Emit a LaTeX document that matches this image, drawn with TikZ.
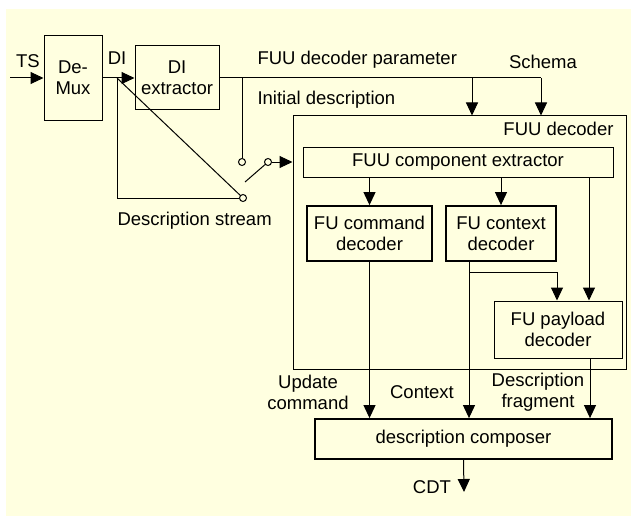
\documentclass[tikz,border=0pt]{standalone}
\usepackage{fontspec}
\setmainfont{Liberation Sans}
\usetikzlibrary{arrows.meta}
\definecolor{paper}{HTML}{FFFFE0}

\begin{document}
\begin{tikzpicture}[x=1pt,y=-1pt,
    font=\fontsize{18.5}{21}\selectfont,
    line width=1pt,
    arr/.style={-{Triangle[width=12pt,length=13pt]}},
    box/.style={draw,line width=1pt,align=center,inner sep=0pt},
    heavybox/.style={box,line width=1.8pt},
    contact/.style={draw,circle,fill=paper,minimum size=7pt,inner sep=0pt},
    lbl/.style={inner sep=0pt,align=center}]
  \useasboundingbox (0,0) rectangle (631,516);
  \fill[paper] (6,9) rectangle (631,516);
  % blocks
  \node[box,minimum width=58pt,minimum height=85pt] (demux) at (73,78) {De-\\Mux};
  \node[box,minimum width=84pt,minimum height=64pt] (diext) at (177,78) {DI\\extractor};
  \node[box,minimum width=333pt,minimum height=253pt] (fuudec) at (459.5,242.5) {};
  \node[box,minimum width=310pt,minimum height=30pt] (compext) at (458,162) {FUU component extractor};
  \node[heavybox,minimum width=125pt,minimum height=55pt] (cmddec) at (369.5,233.5) {FU command\\decoder};
  \node[heavybox,minimum width=110pt,minimum height=55pt] (ctxdec) at (501,233.5) {FU context\\decoder};
  \node[box,minimum width=128pt,minimum height=57pt] (payload) at (558,329.5) {FU payload\\decoder};
  \node[heavybox,minimum width=297pt,minimum height=40pt] (composer) at (463.5,439) {description composer};
  % switch
  \node[contact] (c1) at (242,162) {};
  \node[contact] (c2) at (243,198) {};
  \node[contact] (c3) at (268,162) {};
  \coordinate (lever) at (245,182);
  % free ends and branch points
  \coordinate (tsin) at (10,78);
  \coordinate (di) at (117,78);
  \coordinate (ini) at (242,78);
  \coordinate (par) at (472,78);
  \coordinate (sch) at (541,78);
  \coordinate (ctxbr) at (469,272);
  \coordinate (cdt) at (464,492);
  % connectors
  \draw[arr] (tsin) -- (demux.west);
  \draw[arr] (demux.east) -- (diext.west);
  \draw (diext.east) -- (sch);
  \draw[arr] (par) -- (par |- fuudec.north);
  \draw[arr] (sch) -- (sch |- fuudec.north);
  \draw (ini) -- (c1);
  \draw (di) -- (c2);
  \draw (di) |- (c2);
  \draw (lever) -- (c3);
  \draw[arr] (c3) -- (c3 -| fuudec.west);
  \draw[arr] (cmddec.north |- compext.south) -- (cmddec.north);
  \draw[arr] (ctxdec.north |- compext.south) -- (ctxdec.north);
  \draw[arr] ([xshift=31pt]payload.north |- compext.south) -- ([xshift=31pt]payload.north);
  \draw[arr] (ctxbr) -| ([xshift=-1pt]payload.north);
  \draw[arr] (ctxbr |- ctxdec.south) -- (ctxbr |- composer.north);
  \draw[arr] (cmddec.south) -- (cmddec.south |- composer.north);
  \draw[arr] ([xshift=32pt]payload.south) -- ([xshift=32pt]payload.south |- composer.north);
  \draw[arr] (composer.south) -- (cdt);
  % labels
  \node[lbl] (lts) at (28,61) {TS};
  \node[lbl] (ldi) at (117,58) {DI};
  \node[lbl,anchor=west] (lpar) at (257,60) {FUU decoder parameter};
  \node[lbl] (lsch) at (543,62) {Schema};
  \node[lbl,anchor=west] (lini) at (257,100) {Initial description};
  \node[lbl,anchor=east] (lfuu) at (614,129) {FUU decoder};
  \node[lbl,anchor=west] (lstr) at (117,221) {Description stream};
  \node[lbl] (lupd) at (308,392) {Update\\command};
  \node[lbl] (lctx) at (422,392) {Context};
  \node[lbl] (lfrag) at (538,392) {Description\\fragment};
  \node[lbl] (lcdt) at (432,487) {CDT};
\end{tikzpicture}
\end{document}
